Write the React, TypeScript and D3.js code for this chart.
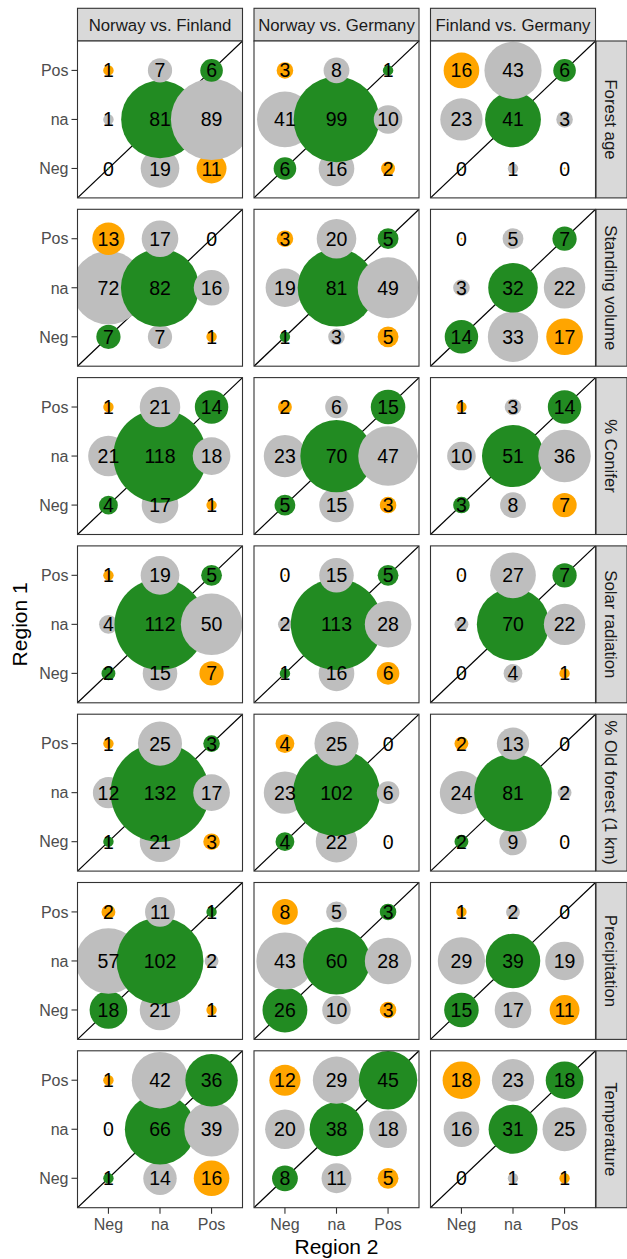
import React from "react";
import * as d3 from "d3";

const comparisons = ["Norway vs. Finland", "Norway vs. Germany", "Finland vs. Germany"];
const variables = [
  "Forest age",
  "Standing volume",
  "% Conifer",
  "Solar radiation",
  "% Old forest (1 km)",
  "Precipitation",
  "Temperature",
];
const levels = ["Neg", "na", "Pos"];

// Each matrix: rows = Region 1 (Pos, na, Neg), cols = Region 2 (Neg, na, Pos)
const forestAge = [
  [[1, 7, 6], [1, 81, 89], [0, 19, 11]],
  [[3, 8, 1], [41, 99, 10], [6, 16, 2]],
  [[16, 43, 6], [23, 41, 3], [0, 1, 0]],
];
const standingVolume = [
  [[13, 17, 0], [72, 82, 16], [7, 7, 1]],
  [[3, 20, 5], [19, 81, 49], [1, 3, 5]],
  [[0, 5, 7], [3, 32, 22], [14, 33, 17]],
];
const conifer = [
  [[1, 21, 14], [21, 118, 18], [4, 17, 1]],
  [[2, 6, 15], [23, 70, 47], [5, 15, 3]],
  [[1, 3, 14], [10, 51, 36], [3, 8, 7]],
];
const solarRadiation = [
  [[1, 19, 5], [4, 112, 50], [2, 15, 7]],
  [[0, 15, 5], [2, 113, 28], [1, 16, 6]],
  [[0, 27, 7], [2, 70, 22], [0, 4, 1]],
];
const oldForest = [
  [[1, 25, 3], [12, 132, 17], [1, 21, 3]],
  [[4, 25, 0], [23, 102, 6], [4, 22, 0]],
  [[2, 13, 0], [24, 81, 2], [2, 9, 0]],
];
const precipitation = [
  [[2, 11, 1], [57, 102, 2], [18, 21, 1]],
  [[8, 5, 3], [43, 60, 28], [26, 10, 3]],
  [[1, 2, 0], [29, 39, 19], [15, 17, 11]],
];
const temperature = [
  [[1, 42, 36], [0, 66, 39], [1, 14, 16]],
  [[12, 29, 45], [20, 38, 18], [8, 11, 5]],
  [[18, 23, 18], [16, 31, 25], [0, 1, 1]],
];
const matrices = [forestAge, standingVolume, conifer, solarRadiation, oldForest, precipitation, temperature];

const rowOrder = ["Pos", "na", "Neg"];

const W = 627;
const H = 1259;
const panelLeft = 77.5;
const panelTop = 41;
const pw = 165;
const ph = 156.9;
const colGap = 11.5;
const rowGap = 11.4;
const stripH = 32.7;
const stripW = 31;
const FONT = "'Liberation Sans', Arial, Helvetica, sans-serif";

const GREEN = "#228B22";
const ORANGE = "#FFA500";
const GREY = "#BEBEBE";

function fillFor(x: string, y: string) {
  if (x === y) return GREEN;
  if (x === "na" || y === "na") return GREY;
  return ORANGE;
}

export default function App() {
  const xs = d3.scalePoint<string>().domain(levels).range([0, pw]).padding(0.6);
  const ys = d3.scalePoint<string>().domain(levels).range([ph, 0]).padding(0.6);
  const xi = d3.scaleLinear().domain([0.4, 3.6]).range([0, pw]);
  const yi = d3.scaleLinear().domain([0.4, 3.6]).range([ph, 0]);
  const r = d3.scaleSqrt().domain([0, 132]).range([1, 49.3]);
  const diag = d3.line<number>().x((d) => xi(d)).y((d) => yi(d));

  const colX = (c: number) => panelLeft + c * (pw + colGap);
  const rowY = (rI: number) => panelTop + rI * (ph + rowGap);
  const totalBottom = rowY(variables.length - 1) + ph;
  const totalRight = colX(comparisons.length - 1) + pw;

  return (
    <svg
      width={W}
      height={H}
      style={{ position: "absolute", left: 0, top: 0, background: "#fff" }}
      fontFamily={FONT}
    >
      <defs>
        <clipPath id="pclip">
          <rect x={0} y={0} width={pw} height={ph} />
        </clipPath>
      </defs>
      {/* top strips */}
      {comparisons.map((c, ci) => (
        <g key={c} transform={`translate(${colX(ci)},${panelTop - stripH})`}>
          <rect width={pw} height={stripH} fill="#D9D9D9" stroke="#333333" strokeWidth={1.1} />
          <text x={pw / 2} y={stripH / 2} dy="0.36em" textAnchor="middle" fontSize={16.8} fill="#1A1A1A">
            {c}
          </text>
        </g>
      ))}
      {variables.map((v, ri) => (
        <g key={v}>
          {/* right strip */}
          <g transform={`translate(${totalRight + 0.5},${rowY(ri)})`}>
            <rect width={stripW} height={ph} fill="#D9D9D9" stroke="#333333" strokeWidth={1.1} />
            <text
              transform={`translate(${stripW / 2},${ph / 2}) rotate(90)`}
              dy="0.36em"
              textAnchor="middle"
              fontSize={16.8}
              fill="#1A1A1A"
            >
              {v}
            </text>
          </g>
          {comparisons.map((c, ci) => {
            const m = matrices[ri][ci];
            const cells: { x: string; y: string; n: number }[] = [];
            levels.forEach((xl, xIdx) => {
              levels.forEach((yl) => {
                const rowIdx = rowOrder.indexOf(yl);
                cells.push({ x: xl, y: yl, n: m[rowIdx][xIdx] });
              });
            });
            return (
              <g key={c} transform={`translate(${colX(ci)},${rowY(ri)})`}>
                <rect width={pw} height={ph} fill="#fff" />
                <g clipPath="url(#pclip)">
                  <path d={diag([0.4, 3.6]) || ""} stroke="#000" strokeWidth={1.2} fill="none" />
                  {cells.map((d, i) => (
                    <circle key={i} cx={xs(d.x)} cy={ys(d.y)} r={r(d.n)} fill={fillFor(d.x, d.y)} />
                  ))}
                  {cells.map((d, i) => (
                    <text
                      key={"t" + i}
                      x={xs(d.x)}
                      y={ys(d.y)}
                      dy="0.36em"
                      textAnchor="middle"
                      fontSize={19.5}
                      fill="#000"
                    >
                      {d.n}
                    </text>
                  ))}
                </g>
                <rect width={pw} height={ph} fill="none" stroke="#333333" strokeWidth={1.1} />
                {/* y axis on first column */}
                {ci === 0 &&
                  levels.map((l) => (
                    <g key={l} transform={`translate(0,${ys(l)})`}>
                      <line x1={-6} x2={0} stroke="#333333" strokeWidth={1.1} />
                      <text x={-9} dy="0.36em" textAnchor="end" fontSize={16} fill="#4D4D4D">
                        {l}
                      </text>
                    </g>
                  ))}
                {/* x axis on last row */}
                {ri === variables.length - 1 &&
                  levels.map((l) => (
                    <g key={l} transform={`translate(${xs(l)},${ph})`}>
                      <line y1={0} y2={6} stroke="#333333" strokeWidth={1.1} />
                      <text y={22} textAnchor="middle" fontSize={16} fill="#4D4D4D">
                        {l}
                      </text>
                    </g>
                  ))}
              </g>
            );
          })}
        </g>
      ))}
      {/* axis titles */}
      <text
        x={(panelLeft + totalRight) / 2}
        y={totalBottom + 46}
        textAnchor="middle"
        fontSize={21}
        fill="#000"
      >
        Region 2
      </text>
      <text
        transform={`translate(${19},${(panelTop + totalBottom) / 2}) rotate(-90)`}
        dy="0.36em"
        textAnchor="middle"
        fontSize={21}
        fill="#000"
      >
        Region 1
      </text>
    </svg>
  );
}
